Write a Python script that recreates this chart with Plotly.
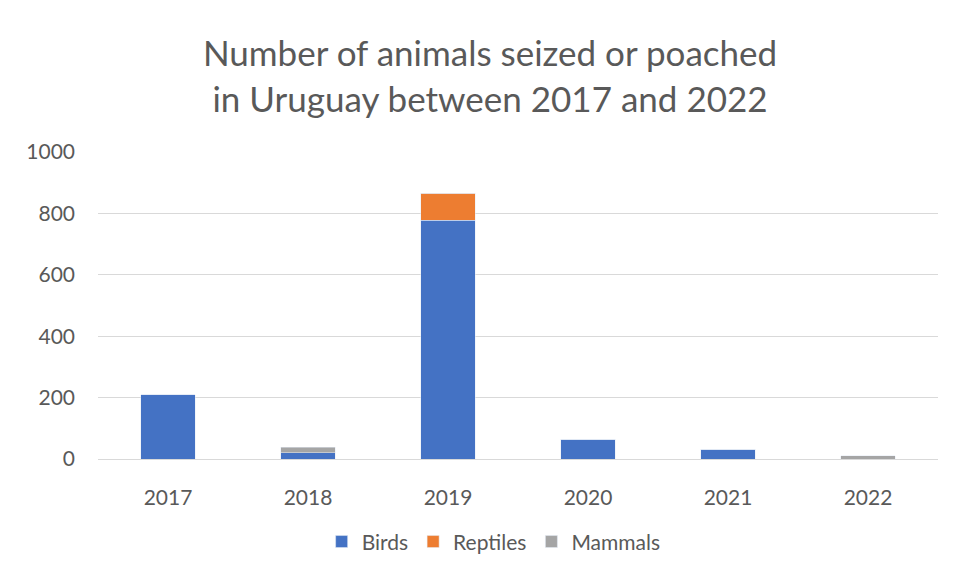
import plotly.graph_objects as go

years = ["2017", "2018", "2019", "2020", "2021", "2022"]
birds = [210, 20, 778, 65, 32, 0]
reptiles = [0, 0, 88, 0, 0, 0]
mammals = [0, 18, 0, 0, 0, 10]
y_ticks = [0, 200, 400, 600, 800, 1000]

W, H = 949, 569  # page body has an 8px margin

fig = go.Figure()
fig.add_trace(go.Bar(x=years, y=birds, name="Birds", marker_color="#4472C4"))
fig.add_trace(go.Bar(x=years, y=reptiles, name="Reptiles", marker_color="#ED7D31"))
fig.add_trace(go.Bar(x=years, y=mammals, name="Mammals", marker_color="#A5A5A5"))

fig.update_layout(
    barmode="stack",
    bargap=0.61,
    width=W, height=H,
    margin=dict(l=90, r=19, t=144, b=118),
    paper_bgcolor="white", plot_bgcolor="white",
    font=dict(family="Lato, Open Sans, sans-serif", color="#595959", size=21),
    title=dict(
        text="Number of animals seized or poached<br>in Uruguay between 2017 and 2022",
        x=(490 - 8) / W, xanchor="center", xref="container",
        y=1 - (66 - 8) / H, yanchor="middle", yref="container",
        font=dict(size=35, color="#595959"),
    ),
    legend=dict(orientation="h", x=0.471, xanchor="center", y=-0.27, yanchor="middle",
                font=dict(size=21, color="#595959"), traceorder="normal"),
    showlegend=True,
)
fig.update_yaxes(range=[0, 1000], tickvals=y_ticks, showgrid=True, gridcolor="#D9D9D9",
                 gridwidth=1, zeroline=False, showline=False, ticks="", ticklabelstandoff=22)
fig.update_xaxes(showline=True, linecolor="#D9D9D9", linewidth=1, ticks="", ticklabelstandoff=20)

fig.write_html("out.html")
